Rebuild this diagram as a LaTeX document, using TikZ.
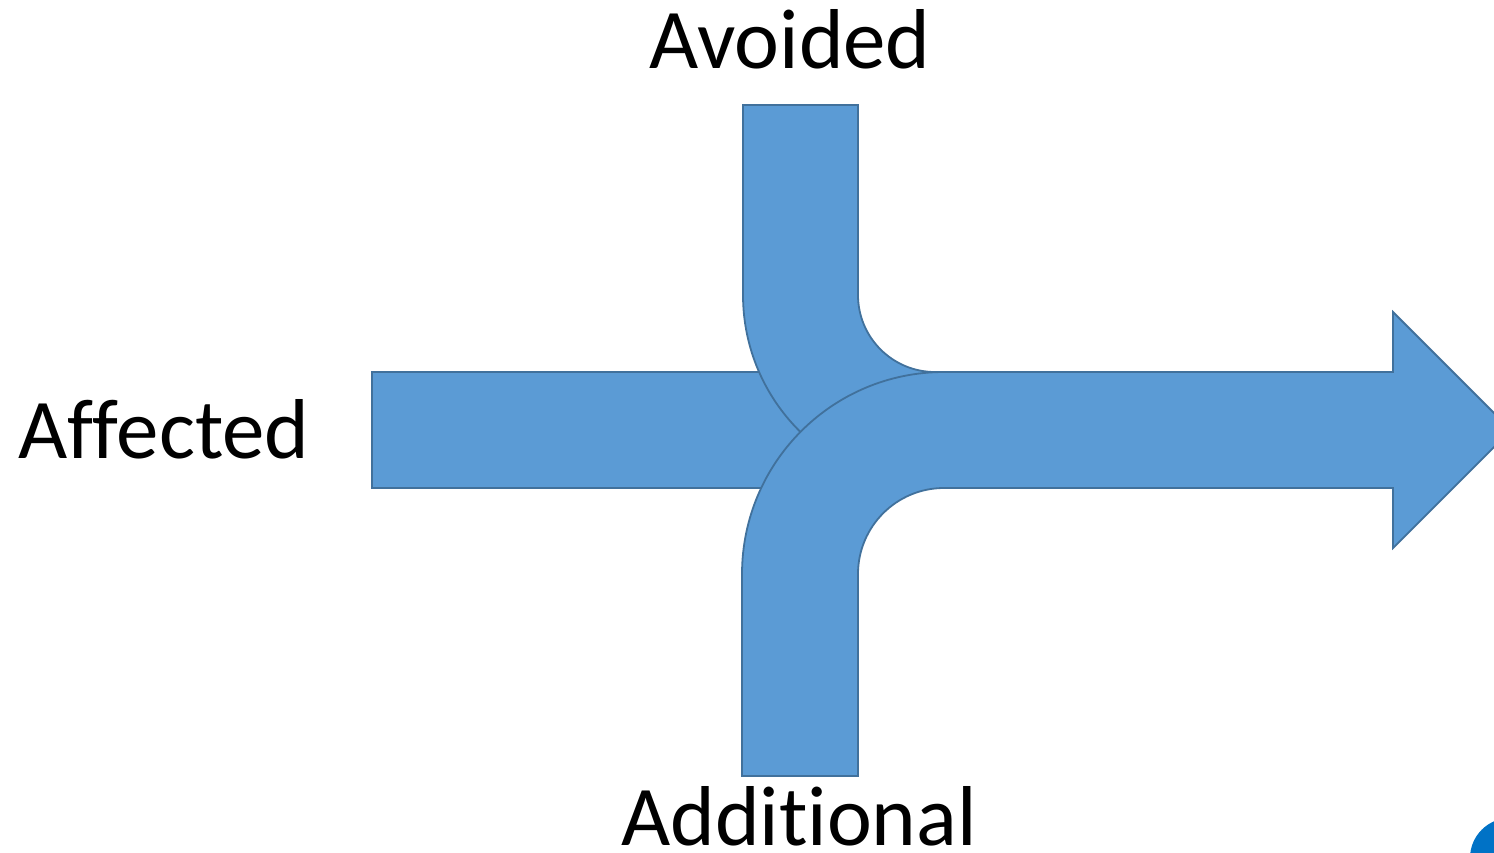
\documentclass[tikz,border=0pt]{standalone}
\usepackage{fontspec}
\setmainfont[RawFeature={-liga;-dlig;-clig}]{Carlito}
\usetikzlibrary{positioning, calc}
\definecolor{bandblue}{RGB}{91,155,213}
\definecolor{bandline}{RGB}{65,113,156}
\definecolor{logoblue}{RGB}{0,114,198}

\begin{document}
\begin{tikzpicture}[x=0.5pt, y=-0.5pt]
        \tikzstyle{band} = [fill=bandblue, draw=bandline, line width=0.9pt, line join=miter]
        \tikzstyle{tag} = [font=\fontsize{42.5}{50}\selectfont, inner sep=0pt, anchor=base]

        \useasboundingbox (0,0) rectangle (1494,852);

        \coordinate (hub) at (944,574);
        \coordinate (bend) at (935,295);

        \draw [band] (372,372) rectangle (800,488);
        \draw [band] (743,105) -- (743,295) arc (180:90:192) -- (1400,487) -- (1400,372) -- ($(bend)+(0,77)$) arc (90:180:77) -- (858,105) -- cycle;
        \draw [band] (742,776) -- (742,574) arc (180:270:202) -- (1393,372) -- (1393,312) -- (1511,430) -- (1393,548) -- (1393,488) -- ($(hub)+(0,-86)$) arc (270:180:86) -- (858,776) -- cycle;

        \fill [logoblue] (1510,858) circle (40);

        \node (avoided) [tag] at (790,68) {Avoided};
        \node (affected) [tag] at (164,458) {Affected};
        \node (additional) [tag] at (799,845) {Additional};
    \end{tikzpicture}
\end{document}
